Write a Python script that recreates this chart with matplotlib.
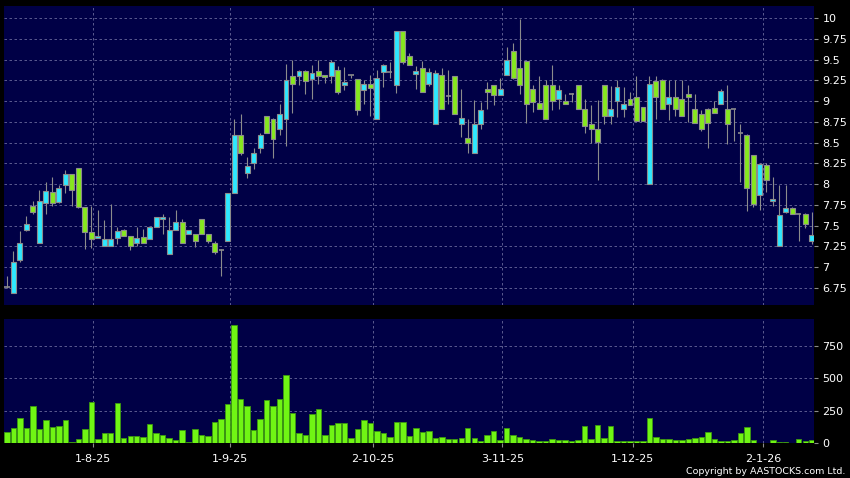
import matplotlib
matplotlib.use('Agg')
import matplotlib.pyplot as plt
import numpy as np

# Datos OHLC (un valor por sesion, de izquierda a derecha)
opens = [6.76, 6.69, 7.09, 7.45, 7.74, 7.29, 7.77, 7.90, 7.78, 7.99,
         8.12, 8.20, 7.72, 7.42, 7.35, 7.26, 7.26, 7.35, 7.45, 7.37,
         7.29, 7.36, 7.34, 7.48, 7.58, 7.16, 7.45, 7.55, 7.40, 7.40,
         7.58, 7.40, 7.29, 7.21, 7.32, 7.89, 8.59, 8.14, 8.26, 8.43,
         8.82, 8.79, 8.67, 8.79, 9.30, 9.30, 9.36, 9.27, 9.36, 9.32,
         9.30, 9.37, 9.19, 9.32, 9.27, 9.13, 9.21, 8.79, 9.35, 9.35,
         9.19, 9.84, 9.54, 9.33, 9.40, 9.21, 8.73, 9.31, 9.06, 9.30,
         8.73, 8.55, 8.38, 8.73, 9.14, 9.19, 9.07, 9.32, 9.60, 9.40,
         9.48, 9.15, 8.98, 9.19, 9.19, 9.02, 9.00, 9.09, 9.19, 8.90,
         8.73, 8.66, 9.19, 8.82, 9.00, 8.90, 9.02, 9.05, 8.93, 8.00,
         9.24, 9.26, 8.97, 9.05, 9.02, 9.09, 8.91, 8.85, 8.91, 8.92,
         8.96, 8.90, 8.90, 8.61, 8.59, 8.35, 7.87, 8.23, 7.80, 7.26,
         7.66, 7.71, 7.64, 7.64, 7.31]
highs = [6.90, 7.20, 7.44, 7.62, 7.80, 7.93, 8.02, 8.09, 7.99, 8.17,
         8.12, 8.20, 7.72, 7.74, 7.69, 7.57, 7.76, 7.48, 7.46, 7.38,
         7.49, 7.46, 7.48, 7.60, 7.64, 7.60, 7.69, 7.58, 7.45, 7.40,
         7.58, 7.40, 7.31, 7.22, 7.89, 8.79, 8.84, 8.33, 8.44, 8.62,
         8.82, 8.80, 8.96, 9.45, 9.49, 9.37, 9.37, 9.44, 9.49, 9.32,
         9.50, 9.42, 9.41, 9.32, 9.27, 9.25, 9.32, 9.38, 9.45, 9.47,
         9.84, 9.84, 9.58, 9.42, 9.48, 9.40, 9.38, 9.40, 9.38, 9.30,
         9.15, 8.78, 9.01, 8.99, 9.23, 9.19, 9.28, 9.65, 9.70, 9.99,
         9.48, 9.19, 9.30, 9.25, 9.44, 9.19, 9.09, 9.10, 9.19, 9.02,
         8.95, 9.01, 9.19, 9.18, 9.25, 9.17, 9.11, 9.30, 8.93, 9.30,
         9.30, 9.27, 9.25, 9.25, 9.25, 9.19, 9.09, 8.89, 8.92, 9.00,
         9.15, 9.19, 8.90, 8.73, 8.60, 8.35, 8.25, 8.25, 8.09, 7.99,
         7.99, 7.72, 7.65, 7.65, 7.67]
lows = [6.75, 6.69, 7.06, 7.43, 7.64, 7.29, 7.64, 7.74, 7.77, 7.89,
        7.74, 7.71, 7.22, 7.23, 7.35, 7.26, 7.26, 7.28, 7.37, 7.21,
        7.25, 7.29, 7.34, 7.48, 7.40, 7.16, 7.45, 7.29, 7.40, 7.24,
        7.40, 7.29, 7.16, 6.90, 7.32, 7.89, 8.35, 8.08, 8.18, 8.38,
        8.61, 8.31, 8.59, 8.46, 8.86, 9.19, 9.09, 9.02, 9.21, 9.22,
        9.22, 9.08, 9.13, 9.28, 8.83, 8.97, 8.82, 8.79, 9.17, 9.28,
        9.10, 9.45, 9.43, 9.14, 9.11, 9.18, 8.73, 8.90, 8.97, 8.85,
        8.57, 8.38, 8.38, 8.67, 8.91, 8.95, 9.07, 9.32, 9.27, 9.09,
        8.74, 8.87, 8.90, 8.79, 8.89, 8.91, 8.96, 8.99, 8.90, 8.61,
        8.50, 8.05, 8.73, 8.73, 8.81, 8.81, 8.95, 8.76, 8.76, 8.00,
        8.79, 8.91, 8.77, 8.82, 8.82, 8.75, 8.74, 8.64, 8.43, 8.86,
        8.96, 8.48, 8.52, 8.03, 7.68, 7.72, 7.69, 7.91, 7.74, 7.26,
        7.65, 7.64, 7.31, 7.47, 7.28]
closes = [6.76, 7.06, 7.29, 7.52, 7.66, 7.80, 7.92, 7.77, 7.95, 8.12,
          7.93, 7.72, 7.42, 7.34, 7.37, 7.34, 7.34, 7.44, 7.38, 7.26,
          7.35, 7.29, 7.48, 7.60, 7.60, 7.45, 7.54, 7.29, 7.45, 7.31,
          7.40, 7.31, 7.18, 7.21, 7.89, 8.59, 8.38, 8.22, 8.37, 8.59,
          8.61, 8.54, 8.85, 9.26, 9.21, 9.36, 9.24, 9.34, 9.30, 9.29,
          9.47, 9.11, 9.23, 9.32, 8.89, 9.21, 9.16, 9.28, 9.43, 9.35,
          9.84, 9.47, 9.44, 9.36, 9.11, 9.35, 9.34, 8.90, 9.06, 8.85,
          8.80, 8.50, 8.72, 8.89, 9.11, 9.07, 9.14, 9.49, 9.28, 9.19,
          8.97, 8.99, 8.90, 8.79, 9.00, 9.13, 8.96, 9.09, 8.90, 8.70,
          8.67, 8.51, 8.82, 8.90, 9.17, 8.96, 8.95, 8.76, 8.76, 9.21,
          9.05, 8.91, 9.05, 8.91, 8.82, 9.05, 8.74, 8.66, 8.74, 8.86,
          9.12, 8.73, 8.90, 8.61, 7.95, 7.76, 8.24, 8.05, 7.82, 7.63,
          7.71, 7.64, 7.64, 7.52, 7.39]
# Volumen (miles)
volumes = [90, 121, 198, 121, 290, 108, 180, 123, 134, 180,
           8, 33, 113, 321, 33, 77, 82, 313, 39, 57,
           57, 51, 149, 82, 64, 44, 26, 103, 13, 108,
           64, 54, 162, 185, 303, 912, 344, 288, 100, 188,
           334, 285, 344, 524, 236, 77, 64, 229, 265, 64,
           139, 154, 157, 41, 110, 180, 154, 95, 77, 46,
           167, 162, 57, 121, 85, 92, 39, 49, 31, 33,
           41, 118, 39, 15, 62, 95, 23, 116, 62, 49,
           33, 23, 18, 18, 33, 23, 28, 15, 23, 136,
           31, 141, 44, 131, 21, 18, 18, 15, 21, 193,
           46, 36, 31, 28, 26, 31, 39, 51, 85, 31,
           15, 15, 26, 77, 126, 23, 3, 3, 28, 8,
           13, 0, 33, 21, 28]

# Etiquetas de fecha y su posicion (indice de sesion)
date_labels = ['1-8-25', '1-9-25', '2-10-25', '3-11-25', '1-12-25', '2-1-26']
date_pos = [13.3, 34.3, 56.4, 76.35, 96.4, 116.5]

price_ticks = [6.75, 7, 7.25, 7.5, 7.75, 8, 8.25, 8.5, 8.75, 9, 9.25, 9.5, 9.75, 10]
vol_ticks = [0, 250, 500, 750]

# Colores
fondo = '#000000'
panel = '#000046'
cian = '#2ee8ff'
verde = '#86e81e'
gris = '#8c8c8c'
rejilla = '#6a6a9c'

o = np.array(opens)
h = np.array(highs)
l = np.array(lows)
c = np.array(closes)
x = np.arange(len(o))

fig = plt.figure(figsize=(8.5, 4.78), dpi=100, facecolor=fondo)
ax = fig.add_axes([4 / 850, 1 - 305 / 478, 810 / 850, 299 / 478])
axv = fig.add_axes([4 / 850, 1 - 443.3 / 478, 810 / 850, 124.3 / 478])

for a in (ax, axv):
    a.set_facecolor(panel)
    for s in a.spines.values():
        s.set_visible(False)
    a.set_xlim(-0.45, 124.35)
    a.yaxis.tick_right()
    a.tick_params(axis='y', colors=gris, labelcolor='white', labelsize=8, length=3, pad=3)
    for p in date_pos:
        a.axvline(p, color=rejilla, lw=0.6, ls=(0, (3, 3)), zorder=0)

# Velas
sube = c > o
doji = np.abs(c - o) < 0.005
ax.vlines(x, l, h, color=gris, lw=0.8, zorder=1)
cuerpo_col = np.where(sube, cian, verde)
bot = np.minimum(o, c)
alt = np.maximum(np.abs(c - o), 0.02)
ax.bar(x[~doji], alt[~doji], bottom=bot[~doji], width=0.76,
       color=cuerpo_col[~doji], edgecolor=gris, linewidth=0.8, zorder=2)
ax.hlines(c[doji], x[doji] - 0.4, x[doji] + 0.4, color=gris, lw=1.2, zorder=2)

ax.set_ylim(6.545, 10.145)
ax.set_yticks(price_ticks)
ax.set_yticklabels(['%g' % t for t in price_ticks])
ax.set_xticks([])
for t in price_ticks:
    ax.axhline(t, color=rejilla, lw=0.6, ls=(0, (3, 3)), zorder=0)

# Volumen
axv.bar(x, volumes, width=0.84, color='#70f514', edgecolor='#3c9a10', linewidth=0.6, zorder=2)
axv.set_ylim(0, 958)
axv.set_yticks(vol_ticks)
axv.set_yticklabels([str(t) for t in vol_ticks])
for t in vol_ticks[1:]:
    axv.axhline(t, color=rejilla, lw=0.6, ls=(0, (3, 3)), zorder=0)
axv.set_xticks(date_pos)
axv.set_xticklabels(date_labels)
axv.tick_params(axis='x', colors=gris, labelcolor='white', labelsize=8, length=3, pad=5)

fig.text(845 / 850, 1 - 472 / 478, 'Copyright by AASTOCKS.com Ltd.', color='white',
         fontsize=6.8, ha='right', va='center')

plt.savefig('out.png', dpi=100, facecolor=fondo)
